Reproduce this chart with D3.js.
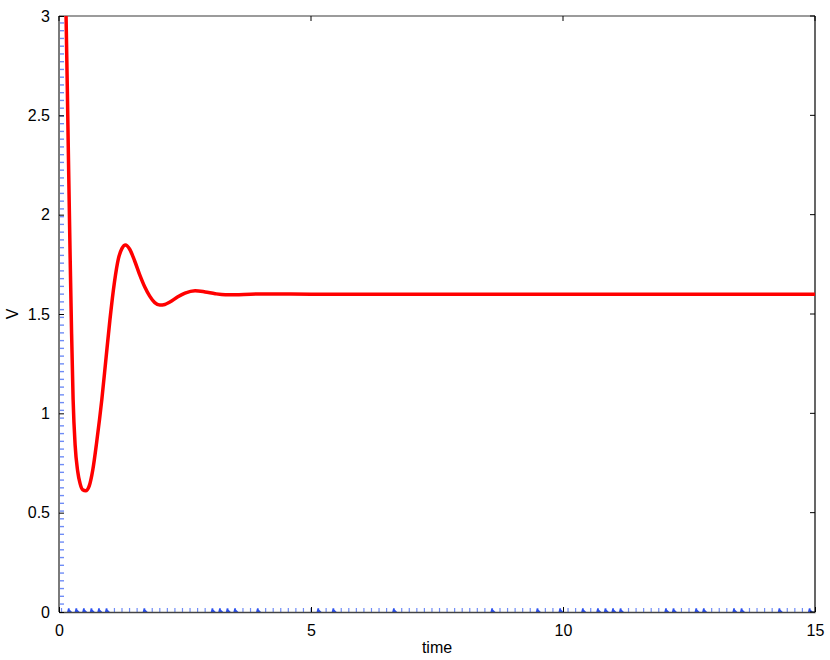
<!DOCTYPE html>
<html>
<head>
<meta charset="utf-8">
<script src="https://cdn.jsdelivr.net/npm/d3@7"></script>
<style>
  body { margin: 0; background: #fff; }
  text { font-family: "Liberation Sans", Arial, sans-serif; }
</style>
</head>
<body>
<svg id="chart" width="830" height="660"></svg>
<script>
// damped response of V over time
var timeVals = [0, 0.1, 0.14, 0.18, 0.22, 0.25, 0.28, 0.32, 0.37, 0.42, 0.47, 0.53, 0.6, 0.67, 0.75, 0.85,
    0.93, 1.01, 1.1, 1.18, 1.25, 1.32, 1.4, 1.5, 1.6, 1.7, 1.8, 1.9, 2.0, 2.1, 2.2, 2.35, 2.5, 2.7, 2.9,
    3.1, 3.3, 3.5, 3.8, 4.2, 5, 15];
var vVals = [3.8, 3.3, 3.0, 2.4, 1.8, 1.4, 1.07, 0.84, 0.71, 0.645, 0.615, 0.61, 0.635, 0.715, 0.86, 1.07,
    1.27, 1.47, 1.66, 1.78, 1.83, 1.847, 1.827, 1.768, 1.698, 1.637, 1.59, 1.557, 1.545, 1.548, 1.56, 1.585,
    1.605, 1.617, 1.611, 1.602, 1.597, 1.597, 1.6, 1.601, 1.6, 1.6];

var xTicks = [0, 5, 10, 15];
var yTicks = [0, 0.5, 1, 1.5, 2, 2.5, 3];
var yTickLabels = ["0", "0.5", "1", "1.5", "2", "2.5", "3"];

// blue markers along the axes
var bottomMarks = d3.range(0.05, 15, 0.15);
var bottomDark = [0.2, 0.35, 0.5, 0.65, 0.8, 0.95, 1.7, 3.05, 3.2, 3.35, 3.5, 3.95, 5.15, 5.45, 6.65,
    8.6, 9.5, 9.95, 10.4, 10.7, 10.85, 11.0, 11.15, 12.05, 12.2, 12.65, 12.8, 13.4, 13.55, 14.3, 14.9];
var leftMarks = d3.range(0.04, 3.0, 0.039);

var margin = {left: 59, right: 15, top: 16, bottom: 48};
var width = 830, height = 660;

var svg = d3.select("#chart");

var x = d3.scaleLinear().domain([0, 15]).range([margin.left, width - margin.right]);
var y = d3.scaleLinear().domain([0, 3]).range([height - margin.bottom, margin.top]);

svg.append("defs").append("clipPath").attr("id", "clip")
    .append("rect")
    .attr("x", x(0)).attr("y", y(3))
    .attr("width", x(15) - x(0)).attr("height", y(0) - y(3));

// blue marks on the left
svg.append("g").selectAll("line")
    .data(leftMarks)
    .enter().append("line")
    .attr("x1", x(0)).attr("x2", x(0) + 5)
    .attr("y1", function(d) { return y(d); })
    .attr("y2", function(d) { return y(d); })
    .attr("stroke", "#6f8cf7")
    .attr("stroke-width", 1.4);

// blue marks on the bottom
svg.append("g").selectAll("line")
    .data(bottomMarks)
    .enter().append("line")
    .attr("x1", function(d) { return x(d); })
    .attr("x2", function(d) { return x(d); })
    .attr("y1", y(0)).attr("y2", y(0) - 4)
    .attr("stroke", "#6f8cf7")
    .attr("stroke-width", 1.2);

svg.append("g").selectAll("path")
    .data(bottomDark)
    .enter().append("path")
    .attr("d", function(d) {
        var px = x(d), py = y(0);
        return "M" + (px - 2) + "," + py + "L" + (px + 3) + "," + py + "L" + (px - 1) + "," + (py - 4) + "Z";
    })
    .attr("fill", "#2a4ff0");

// frame
svg.append("line").attr("x1", x(0)).attr("x2", x(15)).attr("y1", y(3)).attr("y2", y(3))
    .attr("stroke", "#7a7a7a").attr("stroke-width", 1.5);
svg.append("line").attr("x1", x(15)).attr("x2", x(15)).attr("y1", y(3)).attr("y2", y(0))
    .attr("stroke", "#000").attr("stroke-width", 1.2);
svg.append("line").attr("x1", x(0)).attr("x2", x(0)).attr("y1", y(3)).attr("y2", y(0))
    .attr("stroke", "#7a7a7a").attr("stroke-width", 2);

// axes with inward ticks
var xAxis = d3.axisBottom(x).tickValues(xTicks).tickSizeInner(-5).tickSizeOuter(0).tickPadding(13);
var gx = svg.append("g").attr("transform", "translate(0," + y(0) + ")").call(xAxis);
gx.select(".domain").attr("stroke", "#444").attr("stroke-width", 1.5);

var yAxis = d3.axisLeft(y).tickValues(yTicks).tickFormat(function(d, i) { return yTickLabels[i]; })
    .tickSizeInner(-5).tickSizeOuter(0).tickPadding(9);
var gy = svg.append("g").attr("transform", "translate(" + x(0) + ",0)").call(yAxis);
gy.select(".domain").remove();

// ticks on right and top
svg.append("g").selectAll("line")
    .data(yTicks)
    .enter().append("line")
    .attr("x1", x(15)).attr("x2", x(15) - 5)
    .attr("y1", function(d) { return y(d); })
    .attr("y2", function(d) { return y(d); })
    .attr("stroke", "#000");
svg.append("g").selectAll("line")
    .data(xTicks)
    .enter().append("line")
    .attr("x1", function(d) { return x(d); })
    .attr("x2", function(d) { return x(d); })
    .attr("y1", y(3)).attr("y2", y(3) + 5)
    .attr("stroke", "#000");

svg.selectAll(".tick text")
    .attr("font-family", "Liberation Sans, Arial, sans-serif")
    .attr("font-size", 16)
    .attr("fill", "#000");
svg.selectAll(".tick line").attr("stroke", "#000");

// curve
var line = d3.line()
    .x(function(d, i) { return x(timeVals[i]); })
    .y(function(d) { return y(d); })
    .curve(d3.curveMonotoneX);

svg.append("path")
    .datum(vVals)
    .attr("clip-path", "url(#clip)")
    .attr("fill", "none")
    .attr("stroke", "#ff0000")
    .attr("stroke-width", 3.5)
    .attr("stroke-linejoin", "round")
    .attr("d", line);

// labels
svg.append("text")
    .attr("x", (x(0) + x(15)) / 2)
    .attr("y", 653)
    .attr("text-anchor", "middle")
    .attr("font-size", 16)
    .text("time");

svg.append("text")
    .attr("transform", "translate(18," + y(1.5) + ") rotate(-90)")
    .attr("text-anchor", "middle")
    .attr("font-size", 16)
    .text("V");
</script>
</body>
</html>
